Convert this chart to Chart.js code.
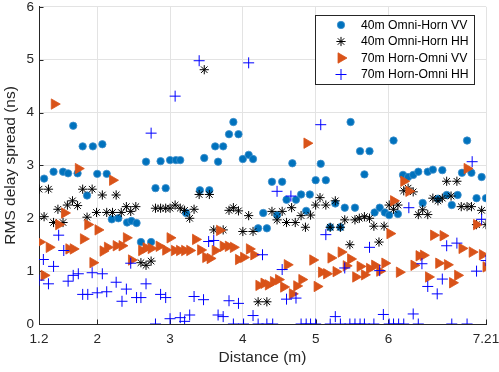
<!DOCTYPE html>
<html><head><meta charset="utf-8">
<script src="https://cdn.jsdelivr.net/npm/chart.js@4/dist/chart.umd.min.js"></script>
<style>html,body{margin:0;padding:0;background:#fff}#wrap{width:499px;height:372px}</style>
</head><body><div id="wrap"><canvas id="c" width="499" height="372"></canvas></div>
<script>
const seriesNames = ['40m Omni-Horn VV', '40m Omni-Horn HH', '70m Horn-Omni VV', '70m Horn-Omni HH'];

const vv40X = [1.27,1.40,1.53,1.60,1.67,1.73,1.80,1.86,1.94,2.00,2.07,2.13,2.20,2.29,2.41,2.47,2.54,2.60,2.67,2.74,2.80,2.87,2.94,3.00,3.08,3.14,3.22,3.41,3.47,3.54,3.62,3.66,3.73,3.81,3.87,3.94,4.00,4.08,4.14,4.21,4.28,4.33,4.40,4.47,4.54,4.60,4.68,4.73,4.80,4.87,4.92,5.00,5.07,5.14,5.20,5.27,5.34,5.40,5.48,5.54,5.61,5.67,5.74,5.81,5.88,5.95,6.01,6.07,6.13,6.20,6.27,6.34,6.41,6.47,6.54,6.61,6.68,6.74,6.80,6.87,6.95,7.01,7.08,7.14,7.21,7.28,7.34];
const vv40Y = [2.75,2.88,2.88,2.85,3.75,2.85,3.36,2.43,3.36,2.84,3.40,2.84,1.98,2.00,1.92,1.95,1.91,1.55,3.07,1.55,2.57,3.08,2.57,3.10,3.10,3.10,2.10,2.53,3.14,2.53,3.36,3.07,3.36,3.59,3.82,3.59,3.12,3.20,3.12,1.81,2.10,1.81,2.69,2.06,2.69,2.35,3.04,2.35,2.45,2.14,2.45,2.72,3.03,2.72,1.83,2.28,1.83,2.20,3.82,2.20,3.27,2.83,3.27,2.11,2.20,2.11,2.06,3.47,2.08,2.82,2.78,2.82,2.88,2.29,2.88,2.92,2.37,2.91,2.44,2.25,2.44,2.86,3.47,2.86,2.38,2.78,2.38];

const hh40X = [1.20,1.27,1.33,1.40,1.46,1.53,1.59,1.66,1.73,1.80,1.86,1.93,1.99,2.07,2.13,2.21,2.26,2.33,2.40,2.46,2.53,2.60,2.67,2.74,2.80,2.87,2.94,3.00,3.07,3.14,3.20,3.27,3.33,3.40,3.47,3.54,3.60,3.73,3.81,3.87,3.94,4.00,4.08,4.14,4.21,4.33,4.40,4.47,4.54,4.60,4.67,4.72,4.80,4.86,4.93,5.00,5.06,5.14,5.20,5.27,5.34,5.40,5.47,5.54,5.60,5.67,5.74,5.80,5.87,5.94,6.01,6.07,6.13,6.21,6.27,6.34,6.41,6.47,6.54,6.61,6.68,6.74,6.80,6.86,6.94,7.00,7.08,7.14,7.21,7.28,7.34];
const hh40Y = [2.55,2.03,2.55,1.92,2.17,1.92,2.25,2.33,2.24,2.55,2.02,2.55,2.11,2.44,2.11,2.11,2.44,2.11,2.22,2.13,2.22,1.16,1.11,1.19,2.19,2.19,2.19,2.19,2.25,2.19,2.15,2.00,2.17,2.45,4.81,2.45,1.78,1.78,2.15,2.20,2.14,1.75,2.05,1.75,0.42,0.42,2.13,1.97,2.13,1.92,2.20,1.92,2.05,1.83,2.06,2.25,2.39,2.25,1.83,2.33,1.83,1.97,1.50,1.97,2.00,2.03,2.00,1.85,1.55,1.85,2.25,2.17,2.25,2.52,2.57,2.50,2.07,2.16,2.07,2.38,2.33,2.38,2.70,2.42,2.70,2.22,2.22,2.22,1.88,2.15,1.88];

const vv70X = [1.21,1.27,1.34,1.41,1.47,1.55,1.61,1.67,1.74,1.81,1.87,1.94,2.01,2.08,2.14,2.21,2.26,2.34,2.40,2.47,2.61,2.67,2.74,2.85,2.94,3.00,3.06,3.13,3.20,3.27,3.35,3.42,3.49,3.55,3.62,3.68,3.73,3.80,3.87,3.94,4.01,4.09,4.15,4.22,4.29,4.35,4.42,4.49,4.56,4.61,4.68,4.74,4.81,4.88,4.96,5.02,5.08,5.15,5.21,5.28,5.35,5.42,5.48,5.55,5.61,5.67,5.74,5.81,5.88,5.95,6.02,6.07,6.15,6.21,6.28,6.35,6.42,6.48,6.55,6.62,6.69,6.75,6.81,6.88,6.95,7.01,7.08,7.15,7.21,7.29,7.34];
const vv70Y = [1.55,0.92,1.45,4.16,1.88,2.10,1.42,1.42,2.94,1.61,1.88,1.16,1.78,1.38,1.45,2.72,1.48,1.48,1.63,1.21,1.39,1.44,1.43,1.47,1.40,1.63,1.39,1.39,1.39,1.39,1.60,1.40,1.26,1.24,1.39,1.77,1.47,1.47,1.45,1.22,1.26,1.42,1.31,0.73,0.77,0.74,0.80,0.84,0.70,1.12,0.57,0.72,0.84,3.42,1.21,0.71,0.98,0.95,1.25,0.99,1.36,1.10,1.23,0.89,1.09,0.93,1.05,1.11,1.00,1.15,1.71,2.33,0.98,2.70,2.51,1.11,1.29,1.30,0.89,1.68,1.15,1.67,1.12,0.78,0.92,1.43,2.94,1.36,1.88,1.31,1.08];

const hh70X = [1.20,1.26,1.33,1.40,1.47,1.54,1.60,1.67,1.74,1.80,1.87,1.93,2.00,2.07,2.13,2.26,2.34,2.40,2.46,2.54,2.60,2.67,2.74,2.80,2.87,2.94,3.00,3.07,3.14,3.20,3.27,3.33,3.40,3.46,3.53,3.60,3.66,3.73,3.81,3.87,3.94,4.01,4.08,4.14,4.21,4.27,4.33,4.41,4.47,4.54,4.60,4.66,4.73,4.80,4.87,4.93,5.00,5.07,5.14,5.20,5.27,5.34,5.40,5.47,5.54,5.61,5.67,5.74,5.80,5.88,5.93,6.01,6.07,6.14,6.21,6.28,6.34,6.41,6.46,6.54,6.67,6.74,6.80,6.87,6.94,7.08,7.15,7.21,7.28,7.34];
const hh70Y = [0.83,1.22,0.76,1.09,1.68,1.39,0.81,0.92,0.95,0.56,0.56,0.97,0.59,0.95,0.61,0.79,0.43,0.66,1.15,0.50,0.50,0.76,3.61,0,0.56,0.50,0.10,4.31,0.12,0.05,0.17,0.52,4.98,0.46,1.56,1.58,0.17,0.14,0.44,0,0.39,0,4.94,0.16,0,1.31,0,0,2.51,1.03,0.47,2.42,0.49,0,0,0,0,3.77,1.69,0,0.14,0,1.06,0,0,0,0,1.45,0,1.01,0.18,0,0,0,0,2.20,0.19,0,1.14,0.71,0.57,0.85,1.48,0,1.53,0,3.07,1.00,1.98,1.20];

const xTickValues = [1.2, 2, 3, 4, 5, 6, 7.34];
const xTickLabels = ['1.2', '2', '3', '4', '5', '6', '7.21'];
const yTickValues = [0, 1, 2, 3, 4, 5, 6];
const xTitle = 'Distance (m)';
const yTitle = 'RMS delay spread (ns)';

const FONT = "'Liberation Sans', Arial, Helvetica, sans-serif";
const AX = '#262626';

function pts(xs, ys) { return xs.map((x, i) => ({x: x, y: ys[i]})); }

const styles = [
  {pointStyle: 'circle', radius: 3.7, rotation: 0, backgroundColor: '#0072BD', borderColor: '#3f8fcc', borderWidth: 0.8},
  {pointStyle: 'star', radius: 4.6, rotation: 0, backgroundColor: '#000', borderColor: '#000', borderWidth: 1},
  {pointStyle: 'triangle', radius: 6, rotation: 90, backgroundColor: '#D95319', borderColor: '#D95319', borderWidth: 0.8},
  {pointStyle: 'cross', radius: 5.5, rotation: 0, backgroundColor: '#0000FF', borderColor: '#0000FF', borderWidth: 1}
];
const allX = [vv40X, hh40X, vv70X, hh70X];
const allY = [vv40Y, hh40Y, vv70Y, hh70Y];

const datasets = seriesNames.map((name, i) => ({
  label: name,
  data: pts(allX[i], allY[i]),
  showLine: false,
  order: 4 - i,
  pointStyle: styles[i].pointStyle,
  pointRadius: styles[i].radius,
  pointRotation: styles[i].rotation,
  pointBackgroundColor: styles[i].backgroundColor,
  pointBorderColor: styles[i].borderColor,
  pointBorderWidth: styles[i].borderWidth,
  pointHoverRadius: styles[i].radius
}));

const overlay = {
  id: 'overlay',
  beforeDatasetsDraw(chart) {
    const ctx = chart.ctx, a = chart.chartArea;
    const xs = chart.scales.x, ys = chart.scales.y;
    ctx.save();
    ctx.strokeStyle = AX; ctx.lineWidth = 1;
    ctx.beginPath();
    xTickValues.forEach(v => {
      const px = Math.round(xs.getPixelForValue(v)) + 0.5;
      ctx.moveTo(px, a.bottom); ctx.lineTo(px, a.bottom - 4.5);
    });
    yTickValues.forEach(v => {
      const py = Math.round(ys.getPixelForValue(v)) + 0.5;
      ctx.moveTo(a.left, py); ctx.lineTo(a.left + 4.5, py);
    });
    ctx.stroke();
    ctx.restore();
  },
  afterDatasetsDraw(chart) {
    const ctx = chart.ctx;
    const bx = 315.5, by = 15.5, bw = 159, bh = 69;
    ctx.save();
    ctx.fillStyle = '#fff';
    ctx.fillRect(bx, by, bw, bh);
    ctx.strokeStyle = '#262626'; ctx.lineWidth = 1;
    ctx.strokeRect(bx, by, bw, bh);
    const rows = [25, 41.5, 58, 74.5];
    ctx.font = '12.2px ' + FONT;
    ctx.textBaseline = 'middle';
    ctx.textAlign = 'left';
    seriesNames.forEach((name, i) => {
      const s = styles[i];
      ctx.fillStyle = s.backgroundColor;
      ctx.strokeStyle = s.borderColor;
      ctx.lineWidth = s.borderWidth;
      Chart.helpers.drawPoint(ctx, {pointStyle: s.pointStyle, radius: s.radius, rotation: s.rotation, borderWidth: s.borderWidth}, 341, rows[i]);
      ctx.fillStyle = '#000';
      ctx.fillText(name, 361, rows[i] + 0.5);
    });
    ctx.restore();
  }
};

new Chart(document.getElementById('c'), {
  type: 'scatter',
  data: {datasets: datasets},
  options: {
    responsive: false,
    animation: false,
    events: [],
    layout: {padding: {left: 0, right: 13, top: 4, bottom: 2}},
    plugins: {legend: {display: false}, tooltip: {enabled: false}},
    scales: {
      x: {
        type: 'linear', min: 1.2, max: 7.34,
        afterBuildTicks: s => { s.ticks = xTickValues.map(v => ({value: v})); },
        afterFit: s => { s.height = 46; s.paddingLeft = 0; s.paddingRight = 0; },
        ticks: {
          autoSkip: false, maxRotation: 0, padding: 7, color: AX,
          font: {family: FONT, size: 13.5},
          callback: (v, i) => xTickLabels[i]
        },
        grid: {color: '#e3e3e3', drawTicks: false, lineWidth: 1},
        border: {color: AX, width: 1},
        title: {display: true, text: xTitle, color: AX, font: {family: FONT, size: 15.5}, padding: {top: 2, bottom: 3}}
      },
      y: {
        type: 'linear', min: 0, max: 6,
        afterBuildTicks: s => { s.ticks = yTickValues.map(v => ({value: v})); },
        afterFit: s => { s.width = 39; s.paddingTop = 0; s.paddingBottom = 0; },
        ticks: {padding: 5, color: AX, font: {family: FONT, size: 13.5}},
        grid: {color: '#e3e3e3', drawTicks: false, lineWidth: 1},
        border: {color: AX, width: 1},
        title: {display: true, text: yTitle, color: AX, font: {family: FONT, size: 15.5}, padding: {top: 1.5, bottom: 3}}
      }
    }
  },
  plugins: [overlay]
});
</script>
</body></html>
